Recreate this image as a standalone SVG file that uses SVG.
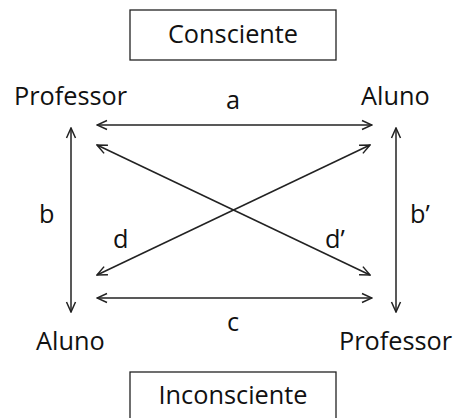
<svg xmlns="http://www.w3.org/2000/svg" width="454" height="418" viewBox="0 0 454 418">
<style>
text{font-family:"Open Sans","DejaVu Sans",sans-serif;font-size:25.3px;fill:#111}
.box{fill:#fff;stroke:#222;stroke-width:1.3}
.c line{stroke:#222;stroke-width:1.5;marker-start:url(#ah);marker-end:url(#ah)}
</style>
<defs>
<marker id="ah" viewBox="0 0 12 12" refX="11" refY="6" markerWidth="12" markerHeight="12" markerUnits="userSpaceOnUse" orient="auto-start-reverse">
<path d="M1,1.5 L11,6 L1,10.5" fill="none" stroke="#222" stroke-width="1.5"/>
</marker>
</defs>
<rect width="454" height="418" fill="#fff"/>
<g id="consciente"><rect class="box" x="130" y="10" width="206" height="50"/><text x="233" y="43" text-anchor="middle">Consciente</text></g>
<g id="inconsciente"><rect class="box" x="130" y="372" width="206" height="60"/><text x="233" y="404" text-anchor="middle">Inconsciente</text></g>
<g id="professor-tl"><text x="14" y="105">Professor</text></g>
<g id="aluno-tr"><text x="361" y="105">Aluno</text></g>
<g id="aluno-bl"><text x="36" y="350">Aluno</text></g>
<g id="professor-br"><text x="339" y="350">Professor</text></g>
<g class="c" id="connectors">
<line x1="97" y1="125" x2="372" y2="125"/>
<line x1="97" y1="298" x2="372" y2="298"/>
<line x1="71" y1="128" x2="71" y2="312"/>
<line x1="396" y1="128" x2="396" y2="312"/>
<line x1="97" y1="145" x2="370" y2="275"/>
<line x1="97" y1="275" x2="370" y2="145"/>
</g>
<g id="labels">
<text x="233" y="109" text-anchor="middle">a</text>
<text x="233" y="331" text-anchor="middle">c</text>
<text x="39" y="223">b</text>
<text x="410" y="223">b’</text>
<text x="113" y="248">d</text>
<text x="325" y="248">d’</text>
</g>
</svg>
